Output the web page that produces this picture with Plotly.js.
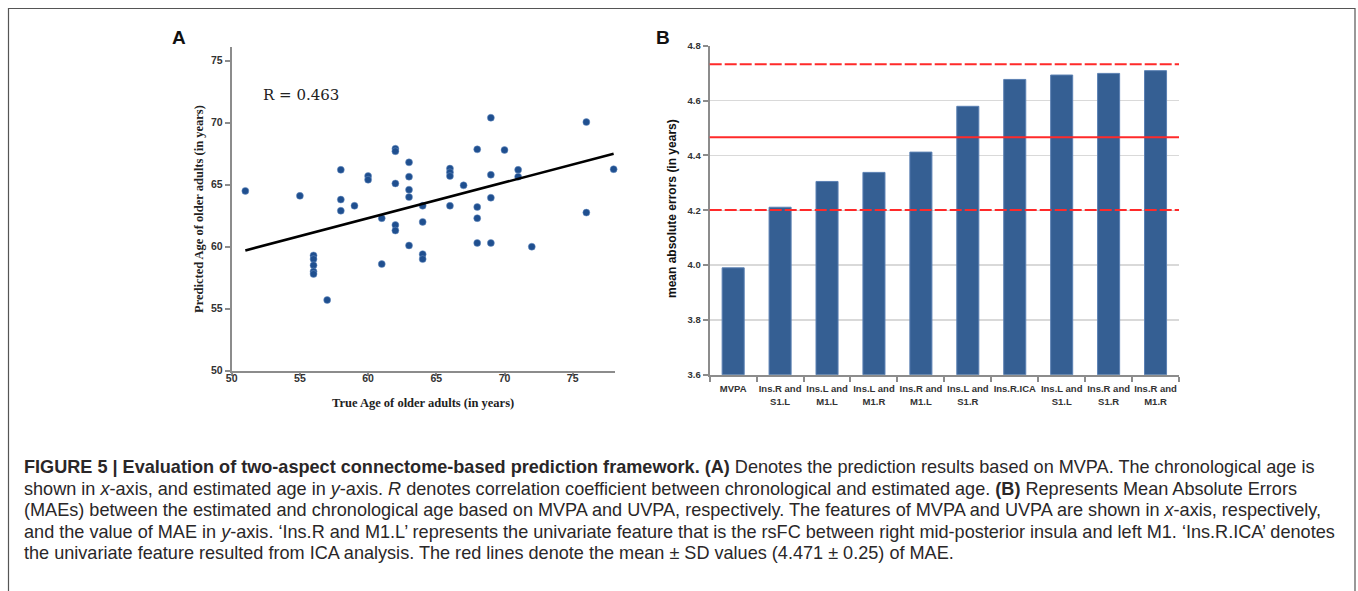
<!DOCTYPE html>
<html>
<head>
<meta charset="utf-8">
<script src="https://cdn.plot.ly/plotly-3.0.1.min.js"></script>
<style>
  html, body { margin: 0; padding: 0; background: #ffffff; }
  #chart { width: 1358px; height: 591px; }
</style>
</head>
<body>
<div id="chart"></div>
<script>
// ---------- Panel A data: true vs predicted age ----------
const trueAge = [
  51, 55,
  56, 56, 56, 56, 56,
  57,
  58, 58, 58,
  59,
  60, 60,
  61, 61,
  62, 62, 62, 62, 62,
  63, 63, 63, 63, 63,
  64, 64, 64, 64,
  66, 66, 66, 66,
  67,
  68, 68, 68, 68,
  69, 69, 69, 69,
  70,
  71, 71,
  72,
  76, 76,
  78
];
const predictedAge = [
  64.5, 64.1,
  59.3, 59.0, 58.5, 58.0, 57.8,
  55.7,
  66.2, 63.8, 62.9,
  63.3,
  65.7, 65.4,
  62.3, 58.6,
  67.9, 67.7, 65.1, 61.75, 61.3,
  66.8, 65.65, 64.6, 64.0, 60.1,
  63.3, 62.0, 59.4, 59.0,
  66.3, 66.0, 65.7, 63.3,
  64.95,
  67.85, 63.2, 62.3, 60.3,
  70.4, 65.8, 63.95, 60.3,
  67.8,
  66.2, 65.65,
  60.0,
  70.05, 62.75,
  66.25
];
// regression line (end points)
const trendX = [51, 78];
const trendY = [59.7, 67.5];
const rText = "R = 0.463";

// ---------- Panel B data: mean absolute errors ----------
const features = [
  "MVPA",
  "Ins.R and<br>S1.L",
  "Ins.L and<br>M1.L",
  "Ins.L and<br>M1.R",
  "Ins.R and<br>M1.L",
  "Ins.L and<br>S1.R",
  "Ins.R.ICA",
  "Ins.L and<br>S1.L",
  "Ins.R and<br>S1.R",
  "Ins.R and<br>M1.R"
];
const maeValues = [3.99, 4.211, 4.305, 4.338, 4.412, 4.579, 4.677, 4.693, 4.699, 4.709];
const maeMean = 4.466;
const maeUpper = 4.732;
const maeLower = 4.201;

const captionLines = [
  "<b>FIGURE 5 | Evaluation of two-aspect connectome-based prediction framework. (A)</b> Denotes the prediction results based on MVPA. The chronological age is",
  "shown in <i>x</i>-axis, and estimated age in <i>y</i>-axis. <i>R</i> denotes correlation coefficient between chronological and estimated age. <b>(B)</b> Represents Mean Absolute Errors",
  "(MAEs) between the estimated and chronological age based on MVPA and UVPA, respectively. The features of MVPA and UVPA are shown in <i>x</i>-axis, respectively,",
  "and the value of MAE in <i>y</i>-axis. ‘Ins.R and M1.L’ represents the univariate feature that is the rsFC between right mid-posterior insula and left M1. ‘Ins.R.ICA’ denotes",
  "the univariate feature resulted from ICA analysis. The red lines denote the mean ± SD values (4.471 ± 0.25) of MAE."
];

// ---------- layout helpers (pixel -> paper) ----------
const W = 1358, H = 591;
const px = v => v / W;
const py = v => 1 - v / H;

const axisGrey = "#8c8c8c";
const tickFontA = { family: "Liberation Sans, Arial, sans-serif", size: 10.5, color: "#333", weight: "bold" };
const tickFontB = { family: "Liberation Sans, Arial, sans-serif", size: 9.5, color: "#333", weight: "bold" };

const traces = [
  {
    type: "scatter", mode: "markers",
    x: trueAge, y: predictedAge,
    xaxis: "x", yaxis: "y",
    cliponaxis: false,
    marker: { color: "#1f4f8f", size: 7, line: { color: "#6f93c4", width: 0.5 } },
    hoverinfo: "x+y"
  },
  {
    type: "scatter", mode: "lines",
    x: trendX, y: trendY,
    xaxis: "x", yaxis: "y",
    line: { color: "#000000", width: 2.5 },
    hoverinfo: "skip"
  },
  {
    type: "bar",
    x: features, y: maeValues,
    xaxis: "x2", yaxis: "y2",
    marker: { color: "#355f93", line: { color: "#5b80b3", width: 1 } },
    base: 0
  }
];

const shapes = [
  // figure border
  { type: "rect", xref: "paper", yref: "paper",
    x0: px(8.5), x1: px(1355), y0: -0.1, y1: py(8.5),
    line: { color: "#555555", width: 1.2 }, fillcolor: "rgba(0,0,0,0)", layer: "below" },
  // red MAE lines
  { type: "line", xref: "x2 domain", yref: "y2", x0: 0, x1: 1, y0: maeUpper, y1: maeUpper,
    line: { color: "#ff2a2a", width: 2, dash: "12px,3px" } },
  { type: "line", xref: "x2 domain", yref: "y2", x0: 0, x1: 1, y0: maeMean, y1: maeMean,
    line: { color: "#ff2a2a", width: 2 } },
  { type: "line", xref: "x2 domain", yref: "y2", x0: 0, x1: 1, y0: maeLower, y1: maeLower,
    line: { color: "#ff2a2a", width: 2, dash: "12px,3px" } }
];

const captionY = [467, 489, 510, 532, 553];
const annotations = [
  { text: "A", xref: "paper", yref: "paper", x: px(178.5), y: py(37), xanchor: "center", yanchor: "middle",
    showarrow: false, font: { family: "Liberation Sans, Arial, sans-serif", size: 19, color: "#111", weight: "bold" } },
  { text: "B", xref: "paper", yref: "paper", x: px(662.5), y: py(37), xanchor: "center", yanchor: "middle",
    showarrow: false, font: { family: "Liberation Sans, Arial, sans-serif", size: 19, color: "#111", weight: "bold" } },
  { text: rText, xref: "paper", yref: "paper", x: px(261), y: py(95), xanchor: "left", yanchor: "middle",
    showarrow: false, font: { family: "DejaVu Serif, serif", size: 15, color: "#222" } },
  { text: "Predicted Age of older adults (in years)", xref: "paper", yref: "paper",
    x: px(199), y: py(209), xanchor: "center", yanchor: "middle", textangle: -90, showarrow: false,
    font: { family: "Liberation Serif, Times New Roman, serif", size: 12.5, color: "#222", weight: "bold" } },
  { text: "True Age of older adults (in years)", xref: "paper", yref: "paper",
    x: px(423), y: py(403), xanchor: "center", yanchor: "middle", showarrow: false,
    font: { family: "Liberation Serif, Times New Roman, serif", size: 12.5, color: "#222", weight: "bold" } },
  { text: "mean absolute errors (in years)", xref: "paper", yref: "paper",
    x: px(672), y: py(209), xanchor: "center", yanchor: "middle", textangle: -90, showarrow: false,
    font: { family: "Liberation Sans, Arial, sans-serif", size: 12, color: "#111", weight: "bold" } }
];
captionLines.forEach((t, i) => {
  annotations.push({
    text: t, xref: "paper", yref: "paper", x: px(22), y: py(captionY[i]),
    xanchor: "left", yanchor: "middle", showarrow: false, align: "left",
    font: { family: "Liberation Sans, Arial, sans-serif", size: 18.1, color: "#2a2728" }
  });
});

const layout = {
  width: W, height: H,
  margin: { l: 0, r: 0, t: 0, b: 0 },
  paper_bgcolor: "#ffffff", plot_bgcolor: "rgba(0,0,0,0)",
  showlegend: false,
  bargap: 0.53,
  xaxis: {
    domain: [px(231.7), px(615)], range: [50, 78.1],
    tickvals: [50, 55, 60, 65, 70, 75],
    showline: true, linecolor: axisGrey, linewidth: 2,
    ticks: "outside", ticklen: 3, tickwidth: 2, tickcolor: axisGrey,
    showgrid: false, zeroline: false, tickfont: tickFontA,
    ticklabelstandoff: -6, anchor: "y"
  },
  yaxis: {
    domain: [py(370.7), py(47.3)], range: [50, 76.08],
    tickvals: [50, 55, 60, 65, 70, 75],
    showline: true, linecolor: axisGrey, linewidth: 2,
    ticks: "outside", ticklen: 5, tickwidth: 2, tickcolor: axisGrey,
    showgrid: false, zeroline: false, tickfont: tickFontA, anchor: "x"
  },
  xaxis2: {
    domain: [px(709.7), px(1179)], type: "category", range: [-0.5, 9.5],
    showline: true, linecolor: axisGrey, linewidth: 2,
    ticks: "outside", tickson: "boundaries", ticklen: 5, tickwidth: 2, tickcolor: axisGrey,
    tickangle: 0, ticklabelstandoff: 4,
    showgrid: false, zeroline: false, tickfont: tickFontB, anchor: "y2"
  },
  yaxis2: {
    domain: [py(374.8), py(45.7)], range: [3.6, 4.8],
    dtick: 0.2, tick0: 3.6, tickformat: ".1f",
    showline: true, linecolor: axisGrey, linewidth: 2,
    ticks: "outside", ticklen: 5, tickwidth: 2, tickcolor: axisGrey,
    showgrid: true, gridcolor: "#d9d9d9", gridwidth: 1.5,
    zeroline: false, tickfont: tickFontB, anchor: "x2"
  },
  shapes: shapes,
  annotations: annotations
};

Plotly.newPlot("chart", traces, layout, { staticPlot: true, displayModeBar: false });
</script>
</body>
</html>
